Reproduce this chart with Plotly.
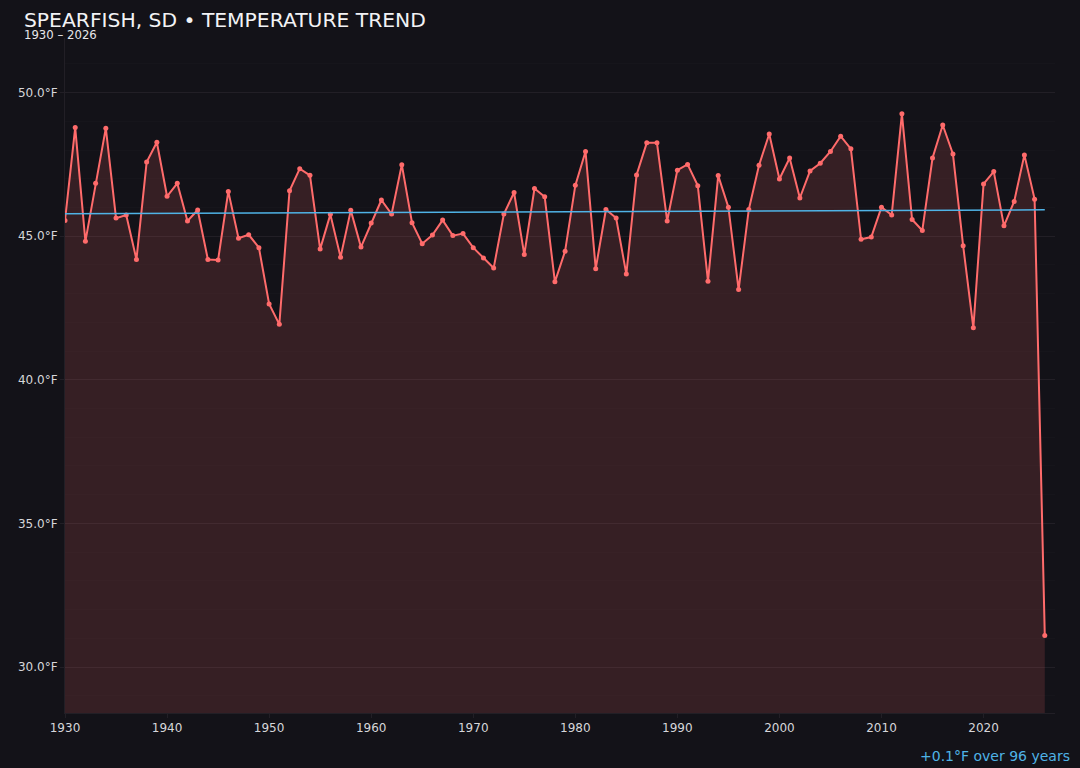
import plotly.graph_objects as go

# annual mean temperature, Spearfish SD
years = list(range(1930, 2027))
temps = [
    45.55, 48.78, 44.82, 46.84, 48.76, 45.63, 45.74, 44.19, 47.58, 48.27,
    46.39, 46.84, 45.53, 45.91, 44.19, 44.17, 46.56, 44.93, 45.05, 44.60,
    42.64, 41.93, 46.58, 47.35, 47.12, 44.55, 45.76, 44.27, 45.90, 44.62,
    45.46, 46.26, 45.77, 47.49, 45.47, 44.74, 45.04, 45.56, 45.02, 45.09,
    44.60, 44.24, 43.89, 45.77, 46.52, 44.36, 46.66, 46.37, 43.41, 44.48,
    46.77, 47.95, 43.87, 45.93, 45.63, 43.68, 47.13, 48.25, 48.25, 45.53,
    47.30, 47.50, 46.76, 43.43, 47.11, 46.01, 43.14, 45.93, 47.47, 48.56,
    46.99, 47.72, 46.33, 47.27, 47.54, 47.95, 48.48, 48.04, 44.89, 44.97,
    46.01, 45.74, 49.26, 45.58, 45.20, 47.72, 48.87, 47.86, 44.67, 41.81,
    46.82, 47.25, 45.36, 46.21, 47.83, 46.29, 31.10,
]

# trend line end points
trend_years = [1930, 2026]
trend_vals = [45.78, 45.92]

title_text = "SPEARFISH, SD • TEMPERATURE TREND"
subtitle_text = "1930 – 2026"
trend_note = "+0.1°F over 96 years"

BG = "#131218"
GRID = "#221f26"
RED = "#ff6b6b"
BLUE = "#4fb3e6"

fig = go.Figure()

fig.add_trace(go.Scatter(
    x=years, y=temps,
    mode="lines+markers",
    line=dict(color=RED, width=2),
    marker=dict(color=RED, size=5),
    fill="tozeroy",
    fillcolor="rgba(255,107,107,0.15)",
    hoverinfo="x+y",
    showlegend=False,
))

fig.add_trace(go.Scatter(
    x=trend_years, y=trend_vals,
    mode="lines",
    line=dict(color=BLUE, width=1.5),
    hoverinfo="skip",
    showlegend=False,
))

fig.update_layout(
    width=1080, height=768,
    paper_bgcolor=BG, plot_bgcolor=BG,
    margin=dict(l=65, r=25, t=38, b=55),
    font=dict(family="DejaVu Sans", color="#cfcfd4", size=12),
    title=dict(
        text=title_text,
        x=24 / 1080, xanchor="left", xref="container",
        y=1 - 20 / 768, yanchor="middle", yref="container",
        font=dict(size=20.3, color="#f2f2f5"),
    ),
    xaxis=dict(
        range=[1930, 2027],
        dtick=10, tick0=1930,
        showgrid=False, zeroline=False,
        showline=True, linecolor=GRID, linewidth=1,
        ticks="outside", ticklen=4, tickcolor=GRID,
        tickfont=dict(size=12, color="#d6d6da"),
    ),
    yaxis=dict(
        range=[28.4, 51.9],
        dtick=5, tick0=30,
        ticksuffix="°F", tickformat=".1f",
        showgrid=True, gridcolor=GRID, gridwidth=1,
        zeroline=False,
        showline=True, linecolor=GRID, linewidth=1,
        ticks="outside", ticklen=4, tickcolor=GRID,
        tickfont=dict(size=12, color="#d6d6da"),
        minor=dict(dtick=1, showgrid=True, gridcolor="#16151b", gridwidth=1),
    ),
)

fig.add_annotation(
    text=subtitle_text, xref="paper", yref="paper",
    x=(22 - 65) / 990, y=(713 - 35) / 675,
    xanchor="left", yanchor="middle", showarrow=False,
    font=dict(size=11.7, color="#e6e6ea"),
)

fig.add_annotation(
    text=trend_note, xref="paper", yref="paper",
    x=(1072 - 65) / 990, y=(713 - 756) / 675,
    xanchor="right", yanchor="middle", showarrow=False,
    font=dict(size=14, color=BLUE),
)

# drop the browser's default page margin so the figure sits flush
fig.write_html(
    "out.html",
    config={"displayModeBar": False},
    post_script="document.body.style.margin='0';",
)
